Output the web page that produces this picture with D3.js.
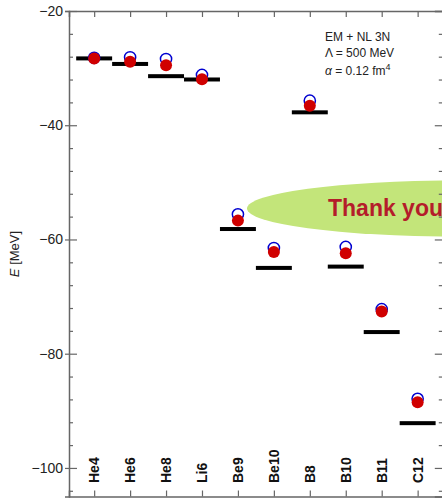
<!DOCTYPE html>
<html><head><meta charset="utf-8">
<script src="https://cdn.jsdelivr.net/npm/d3@7"></script>
<style>body{margin:0;background:#fff}svg{display:block}</style>
</head><body>
<svg id="c" width="442" height="498"></svg>
<script>
const nuclei = ["He4","He6","He8","Li6","Be9","Be10","B8","B10","B11","C12"];
const expt   = [-28.30,-29.27,-31.41,-31.99,-58.17,-64.98,-37.74,-64.75,-76.21,-92.16];
const calcBlue = [-28.2,-28.1,-28.4,-31.2,-55.6,-61.5,-35.7,-61.3,-72.2,-87.9];
const calcRed  = [-28.3,-28.9,-29.5,-31.95,-56.7,-62.2,-36.6,-62.4,-72.6,-88.5];
const yMajor = [-20,-40,-60,-80,-100];
const yMinor = d3.range(-104,-19,4);
const legendLines = ["EM + NL 3N","Λ = 500 MeV","α = 0.12 fm"];

const svg = d3.select("#c");
const x = d3.scaleLinear().domain([0.3,10.7]).range([69,442.8]);
const y = d3.scaleLinear().domain([-105,-20]).range([496.5,11]);
const step = x(2)-x(1);
const axisCol = "#666";
const idx = nuclei.map((d,i)=>i+1);

// ellipse
svg.append("ellipse").attr("cx",455).attr("cy",208.5).attr("rx",208).attr("ry",28)
  .attr("fill","#c3e57a");
svg.append("text").attr("x",328).attr("y",215.5).text("Thank you")
  .attr("font-family","Liberation Sans, Arial, sans-serif").attr("font-weight","bold")
  .attr("font-size",23).attr("fill","#b41d2a");

function styleAxis(g){
  g.select(".domain").attr("stroke",axisCol).attr("stroke-width",1.5);
  g.selectAll(".tick line").attr("stroke",axisCol).attr("stroke-width",1.2);
}
// left axis
const gl = svg.append("g").attr("transform","translate(69,0)")
  .call(d3.axisLeft(y).tickValues(yMajor).tickSize(4).tickPadding(2).tickFormat(d=>d3.format("")(d).replace("-","−")))
  .call(styleAxis);
gl.selectAll(".tick text").attr("font-family","Liberation Sans, Arial, sans-serif").attr("font-size",14).attr("fill","#222");
svg.append("g").attr("transform","translate(69,0)")
  .call(d3.axisRight(y).tickValues(yMajor).tickSize(8).tickFormat(""))
  .call(styleAxis).select(".domain").remove();
svg.append("g").attr("transform","translate(69,0)")
  .call(d3.axisRight(y).tickValues(yMinor.filter(v=>!yMajor.includes(v))).tickSize(4).tickFormat(""))
  .call(styleAxis).select(".domain").remove();
// right axis
svg.append("g").attr("transform","translate(442.8,0)")
  .call(d3.axisLeft(y).tickValues(yMajor).tickSize(8).tickFormat(""))
  .call(styleAxis);
svg.append("g").attr("transform","translate(442.8,0)")
  .call(d3.axisLeft(y).tickValues(yMinor.filter(v=>!yMajor.includes(v))).tickSize(4).tickFormat(""))
  .call(styleAxis).select(".domain").remove();
// top axis
svg.append("g").attr("transform","translate(0,11)")
  .call(d3.axisBottom(x).tickValues(idx).tickSize(6).tickFormat(""))
  .call(styleAxis);
// bottom axis
svg.append("g").attr("transform","translate(0,496.5)")
  .call(d3.axisTop(x).tickValues(idx).tickSize(6).tickFormat(""))
  .call(styleAxis);

// category labels
svg.append("g").selectAll("text").data(nuclei).join("text")
  .attr("transform",(d,i)=>`translate(${x(i+1)},483) rotate(-90)`)
  .attr("dy","0.36em").attr("text-anchor","start")
  .attr("font-family","Liberation Sans, Arial, sans-serif").attr("font-weight","bold")
  .attr("font-size",14).attr("fill","#111").text(d=>d);

// experiment bars
svg.append("g").selectAll("rect").data(expt).join("rect")
  .attr("x",(d,i)=>x(i+1)-step/2).attr("width",step)
  .attr("y",d=>y(d)-2).attr("height",4).attr("fill","#000");

// blue open circles
svg.append("g").selectAll("circle").data(calcBlue).join("circle")
  .attr("cx",(d,i)=>x(i+1)).attr("cy",d=>y(d)).attr("r",5.6)
  .attr("fill","none").attr("stroke","#0000d0").attr("stroke-width",1.5);
// red filled circles
svg.append("g").selectAll("circle").data(calcRed).join("circle")
  .attr("cx",(d,i)=>x(i+1)).attr("cy",d=>y(d)).attr("r",6)
  .attr("fill","#d00000");

// y label
const yl = svg.append("text").attr("transform","translate(19,254) rotate(-90)")
  .attr("text-anchor","middle").attr("font-family","Liberation Sans, Arial, sans-serif")
  .attr("font-size",13).attr("fill","#222");
yl.append("tspan").attr("font-style","italic").text("E");
yl.append("tspan").text(" [MeV]");

// legend text
const lg = svg.append("g").attr("font-family","Liberation Sans, Arial, sans-serif")
  .attr("font-size",12).attr("fill","#222");
lg.append("text").attr("x",325).attr("y",41).text(legendLines[0]);
lg.append("text").attr("x",325).attr("y",57).text(legendLines[1]);
const t3 = lg.append("text").attr("x",325).attr("y",75);
t3.append("tspan").attr("font-style","italic").text("α");
t3.append("tspan").text(legendLines[2].slice(1));
t3.append("tspan").attr("font-size",9).attr("dy",-5).text("4");
</script>
</body></html>
